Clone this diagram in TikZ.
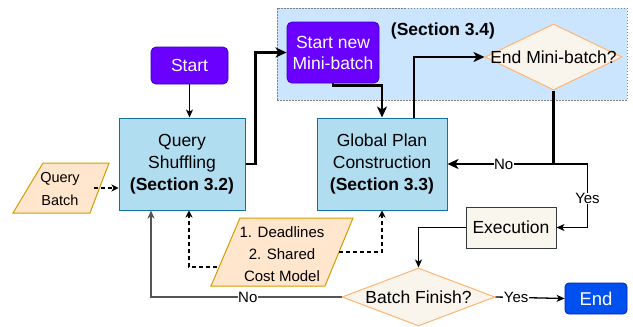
\documentclass[tikz,border=0pt]{standalone}
\usepackage{fontspec}
\setmainfont{Liberation Sans}
\usetikzlibrary{arrows.meta,shapes.geometric}
\definecolor{purp}{HTML}{6A00FF}
\definecolor{purpd}{HTML}{3700CC}
\definecolor{qfill}{HTML}{B1DDF0}
\definecolor{qdraw}{HTML}{10739E}
\definecolor{ofill}{HTML}{FFE6CC}
\definecolor{odraw}{HTML}{D79B00}
\definecolor{dfill}{HTML}{F9F4EC}
\definecolor{ddraw}{HTML}{FFB570}
\definecolor{cfill}{HTML}{CCE5FF}
\definecolor{efill}{HTML}{F9F7ED}
\definecolor{edraw}{HTML}{36393D}
\definecolor{endb}{HTML}{0050EF}
\definecolor{endd}{HTML}{001DBC}
\definecolor{gline}{HTML}{555555}
\tikzset{
  termbox/.style={draw=purpd, fill=purp, rounded corners=5pt, text=white, inner sep=0pt, line width=0.8pt},
  secbox/.style={draw=qdraw, fill=qfill, inner sep=0pt, line width=1pt, align=center, font=\fontsize{17.5}{22}\selectfont},
  para/.style={draw=odraw, fill=ofill, line width=1pt},
  dia/.style={diamond, draw=ddraw, fill=dfill, inner sep=0pt, line width=1pt},
  thick arrow/.style={line width=2.6pt, -{Stealth[length=11pt,width=10pt,inset=3pt]}},
  thin arrow/.style={line width=1.3pt, -{Stealth[length=8pt,width=7pt,inset=2.2pt]}},
  dash arrow/.style={line width=1.1pt, dash pattern=on 4pt off 3pt, -{Stealth[length=7pt,width=7pt,inset=2pt]}},
  lbl/.style={fill=white, inner sep=0.5pt, font=\fontsize{15}{17}\selectfont},
  big/.style={font=\fontsize{17.5}{20}\selectfont},
}
\begin{document}
\begin{tikzpicture}[x=1pt,y=-1pt]
\useasboundingbox (0,0) rectangle (633,327);
% container
\node[draw=gray, fill=cfill, dash pattern=on 1.5pt off 1.5pt, line width=0.8pt, minimum width=350pt, minimum height=92pt, inner sep=0pt] (cont) at (452,54) {};
\node[font=\bfseries\fontsize{17.5}{20}\selectfont] (sec34) at (443,31) {(Section 3.4)};
% nodes
\node[termbox, minimum width=77pt, minimum height=37pt, big] (start) at (189.5,65.5) {Start};
\node[termbox, minimum width=92pt, minimum height=61pt, align=center, font=\fontsize{17.5}{21}\selectfont] (snm) at (333,52.5) {Start new\\Mini-batch};
\node[secbox, minimum width=126pt, minimum height=92pt] (qs) at (182,164) {Query\\Shuffling\\\textbf{(Section 3.2)}};
\node[secbox, minimum width=130pt, minimum height=92pt] (gpc) at (382,164) {Global Plan\\Construction\\\textbf{(Section 3.3)}};
\node[dia, minimum width=137pt, minimum height=66pt] (emb) at (553.5,57) {};
\node[big] (embt) at (emb.center) {End Mini-batch?};
\node[draw=edraw, fill=efill, line width=1pt, minimum width=90pt, minimum height=41pt, inner sep=0pt, big] (exe) at (511,227.5) {Execution};
\node[dia, minimum width=153pt, minimum height=58pt] (bf) at (418.5,297) {};
\node[big] (bft) at (bf.center) {Batch Finish?};
\node[draw=endd, fill=endb, rounded corners=4pt, text=white, minimum width=62pt, minimum height=31pt, inner sep=0pt, line width=0.8pt, font=\fontsize{18.5}{20}\selectfont] (end) at (596,298.5) {End};
% parallelograms
\draw[para] (13,213) -- (90,213) -- (109,163) -- (43,163) -- cycle;
\node[align=center, font=\fontsize{14.5}{23}\selectfont] (qb) at (60,189.5) {Query\\Batch};
\coordinate (qbout) at (94,188);
\draw[para] (211,286) -- (325,286) -- (353,218) -- (240,218) -- cycle;
\node[align=center, font=\fontsize{15}{22}\selectfont] (dl) at (282,254) {1. Deadlines\\2. Shared\\Cost Model};
\coordinate (dlleft) at (217,267);
\coordinate (dlright) at (339,252);
% connectors
\draw[thin arrow, line width=1.1pt] (start.south) -- (qs.north -| start.south);
\draw[dash arrow] (qbout) -- (qs.west |- qbout);
\draw[thick arrow] (qs.east) -- ++(10,0) |- (snm.west);
\draw[thick arrow] (snm.south) -- ++(0,2) -| (gpc.north);
\draw[thick arrow] ([xshift=32pt]gpc.north) |- (emb.west);
\coordinate (split) at (emb.south |- gpc.east);
\draw[thick arrow] (emb.south) -- (split) -- (gpc.east) node[lbl, pos=0.47] {No};
\draw[thin arrow] (split) -- ++(34,0) |- (exe.east) node[lbl, pos=0.27] {Yes};
\draw[thin arrow] (exe.west) -| (bf.north);
\draw[thin arrow] (bf.east) -- (end.west) node[lbl, pos=0.3] {Yes};
\draw[thin arrow, draw=gline, line width=1.5pt] (bf.west) -| ([xshift=-31pt]qs.south) node[lbl, pos=0.246, text=black] {No};
\draw[dash arrow] (dlleft) -| ([xshift=7pt]qs.south);
\draw[dash arrow] (dlright) -| (gpc.south);
\end{tikzpicture}
\end{document}
